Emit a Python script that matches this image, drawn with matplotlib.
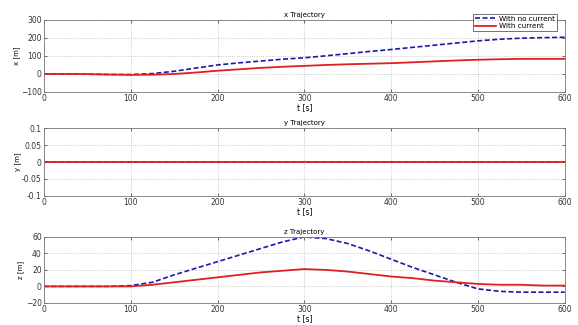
import matplotlib.pyplot as plt
import numpy as np

# time samples [s]
t = np.arange(0, 601, 25)

# x trajectory [m]
x_no_current = [0, 0, -1, -3, -3, 2, 15, 33, 50, 62, 72, 82, 90, 101, 113, 125,
                136, 148, 160, 172, 184, 193, 199, 202, 204]
x_current = [0, 0, -1, -3, -5, -4, 0, 8, 18, 26, 34, 40, 45, 50, 54, 57,
             60, 65, 70, 75, 79, 82, 84, 84, 84]

# y trajectory [m]
y_no_current = [0] * 25
y_current = [0] * 25

# z trajectory [m]
z_no_current = [0, 0, 0, 0, 1, 5, 14, 22, 30, 38, 46, 54, 60, 58, 52, 43,
                33, 23, 14, 5, -3, -6, -7, -7, -7]
z_current = [0, 0, 0, 0, 0, 2, 5, 8, 11, 14, 17, 19, 21, 20, 18, 15,
             12, 10, 7, 5, 3, 2, 2, 1, 1]

fs = 5.5
fig = plt.figure(figsize=(5.78, 3.25), dpi=100)

# axes boxes in figure fraction
boxes = [(0.076, 0.717, 0.901, 0.2215),
         (0.076, 0.397, 0.901, 0.209),
         (0.076, 0.068, 0.901, 0.203)]
panels = [("x", x_no_current, x_current, (-100, 300), [-100, 0, 100, 200, 300], None),
          ("y", y_no_current, y_current, (-0.1, 0.1), [-0.1, -0.05, 0, 0.05, 0.1],
           ["-0.1", "-0.05", "0", "0.05", "0.1"]),
          ("z", z_no_current, z_current, (-20, 60), [-20, 0, 20, 40, 60], None)]

for box, (name, nc, c, ylim, yt, ytl) in zip(boxes, panels):
    ax = fig.add_axes(box)
    ax.plot(t, nc, '--', color='#1a1aa8', lw=1.2, dashes=(3, 1.5),
            label='With no current')
    ax.plot(t, c, '-', color='#e02020', lw=1.3, label='With current')
    ax.set_xlim(0, 600)
    ax.set_ylim(*ylim)
    ax.set_xticks([0, 100, 200, 300, 400, 500, 600])
    ax.set_yticks(yt)
    if ytl:
        ax.set_yticklabels(ytl)
    ax.grid(True, linestyle=':', color='#bbbbbb', lw=0.6)
    ax.tick_params(labelsize=fs, length=2, width=0.5, direction='in', pad=1.5,
                   top=True, right=True, colors='#333333')
    for s in ax.spines.values():
        s.set_linewidth(0.6)
        s.set_color('#777777')
    ax.set_title(name + " Trajectory", fontsize=fs - 0.5, pad=2)
    ax.set_xlabel("t [s]", fontsize=fs, labelpad=0)
    ax.set_ylabel(name + " [m]", fontsize=fs - 0.5, labelpad=1)
    if name == "x":
        leg = ax.legend(loc='upper right', bbox_to_anchor=(0.993, 1.14),
                        fontsize=fs - 0.3, frameon=True, fancybox=False,
                        handlelength=3, borderpad=0.3, labelspacing=0.2,
                        handletextpad=0.4)
        leg.get_frame().set_edgecolor('#333333')
        leg.get_frame().set_linewidth(0.6)

fig.savefig("out.png", dpi=100)
